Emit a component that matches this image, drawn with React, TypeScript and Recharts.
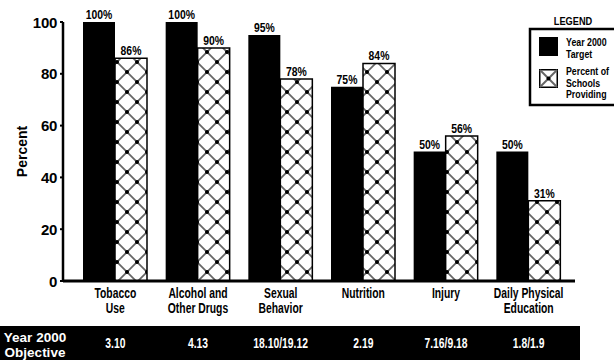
import React from "react";
import { BarChart, Bar, XAxis, YAxis, LabelList } from "recharts";

const categories = ["Tobacco\nUse", "Alcohol and\nOther Drugs", "Sexual\nBehavior", "Nutrition", "Injury", "Daily Physical\nEducation"];
const targetValues = [100, 100, 95, 75, 50, 50];
const providingValues = [86, 90, 78, 84, 56, 31];
const objectives = ["3.10", "4.13", "18.10/19.12", "2.19", "7.16/9.18", "1.8/1.9"];
const yTicks = [0, 20, 40, 60, 80, 100];

const data = categories.map((c, i) => ({
  name: c,
  target: targetValues[i],
  providing: providingValues[i],
  objective: objectives[i],
}));

const FONT = "'Liberation Sans', Arial, Helvetica, sans-serif";

const CText = ({ x, y, size = 13, sx = 0.76, anchor = "middle", fill = "#000", children }: any) => (
  <text
    transform={`translate(${x},${y}) scale(${sx},1)`}
    x={0}
    y={0}
    textAnchor={anchor}
    fill={fill}
    fontFamily={FONT}
    fontWeight="bold"
    fontSize={size}
  >
    {children}
  </text>
);

const XTick = (props: any) => {
  const { x, y, payload, index } = props;
  const lines = String(payload.value).split("\n");
  return (
    <g>
      {lines.map((l: string, i: number) => (
        <CText key={i} x={x} y={y + 9 + i * 15} size={14} sx={0.74}>
          {l}
        </CText>
      ))}
      <CText x={x} y={y + 59} size={14} sx={0.74} fill="#fff">
        {objectives[index]}
      </CText>
    </g>
  );
};

const YTick = (props: any) => {
  const { x, y, payload } = props;
  return (
    <text x={x - 1} y={y + 5.5} textAnchor="end" fill="#000" fontFamily={FONT} fontWeight="bold" fontSize={15} letterSpacing={-0.3}>
      {payload.value}
    </text>
  );
};

const ValueLabel = (props: any) => {
  const { x, y, width, value } = props;
  return (
    <CText x={Number(x) + Number(width) / 2} y={Number(y) - 3} size={13} sx={0.8}>
      {`${value}%`}
    </CText>
  );
};

export default function App() {
  return (
    <div style={{ position: "absolute", left: 0, top: 0, width: 614, height: 360, background: "#fff", overflow: "hidden" }}>
      <svg width={0} height={0} style={{ position: "absolute" }}>
        <defs>
          <pattern id="diamond" patternUnits="userSpaceOnUse" width={20} height={20} x={117} y={2}>
            <rect width={20} height={20} fill="#fff" />
            <line x1={0} y1={0} x2={20} y2={20} stroke="#666" strokeWidth={1.8} />
            <line x1={20} y1={0} x2={0} y2={20} stroke="#666" strokeWidth={1.8} />
            <circle cx={0} cy={0} r={2} fill="#000" />
            <circle cx={20} cy={0} r={2} fill="#000" />
            <circle cx={0} cy={20} r={2} fill="#000" />
            <circle cx={20} cy={20} r={2} fill="#000" />
            <circle cx={10} cy={10} r={2} fill="#000" />
          </pattern>
        </defs>
      </svg>
      <div style={{ position: "absolute", left: 0, top: 326, width: 580, height: 34, background: "#000" }} />
      <svg style={{ position: "absolute", left: 0, top: 326 }} width={80} height={34}>
        <CText x={35} y={15.5} size={13} sx={1.04} fill="#fff">Year 2000</CText>
        <CText x={35} y={30.5} size={13} sx={1.04} fill="#fff">Objective</CText>
      </svg>
      <BarChart
        width={614}
        height={360}
        data={data}
        margin={{ top: 22, right: 39, bottom: 0, left: 0 }}
        barSize={32}
        barGap={0}
        style={{ position: "absolute", left: 0, top: 0 }}
      >
        <XAxis
          dataKey="name"
          interval={0}
          padding={{ left: 11, right: 5 }}
          axisLine={{ stroke: "#000", strokeWidth: 3 }}
          tickLine={false}
          tick={<XTick />}
          height={79}
        />
        <YAxis
          domain={[0, 100]}
          ticks={yTicks}
          width={63}
          axisLine={{ stroke: "#000", strokeWidth: 2.5 }}
          tickLine={{ stroke: "#000", strokeWidth: 2 }}
          tickSize={3}
          tick={<YTick />}
          label={{ value: "Percent", angle: -90, position: "insideLeft", offset: 22, style: { fontFamily: FONT, fontWeight: "bold", fontSize: 14, fill: "#000", textAnchor: "middle" } }}
        />
        <Bar dataKey="target" fill="#000" isAnimationActive={false}>
          <LabelList dataKey="target" content={<ValueLabel />} />
        </Bar>
        <Bar dataKey="providing" fill="url(#diamond)" stroke="#000" strokeWidth={1.5} isAnimationActive={false}>
          <LabelList dataKey="providing" content={<ValueLabel />} />
        </Bar>
      </BarChart>
      <svg style={{ position: "absolute", left: 520, top: 0 }} width={94} height={110}>
        <CText x={53} y={25} size={11} sx={0.84}>LEGEND</CText>
        <rect x={10} y={29} width={92} height={76} fill="#fff" stroke="#000" strokeWidth={2.5} />
        <rect x={19} y={37} width={19} height={19} fill="#000" />
        <CText x={46} y={46} size={10} sx={0.88} anchor="start">Year 2000</CText>
        <CText x={46} y={57.5} size={10} sx={0.88} anchor="start">Target</CText>
        <rect x={19.75} y={69.75} width={17.5} height={17.5} fill="#fff" stroke="#000" strokeWidth={1.5} />
        <line x1={20} y1={70} x2={37} y2={87} stroke="#666" strokeWidth={2} />
        <line x1={37} y1={70} x2={20} y2={87} stroke="#666" strokeWidth={2} />
        <circle cx={28.5} cy={78.5} r={2} fill="#000" />
        <CText x={46} y={75} size={10} sx={0.88} anchor="start">Percent of</CText>
        <CText x={46} y={86.5} size={10} sx={0.88} anchor="start">Schools</CText>
        <CText x={46} y={98} size={10} sx={0.88} anchor="start">Providing</CText>
      </svg>
    </div>
  );
}
